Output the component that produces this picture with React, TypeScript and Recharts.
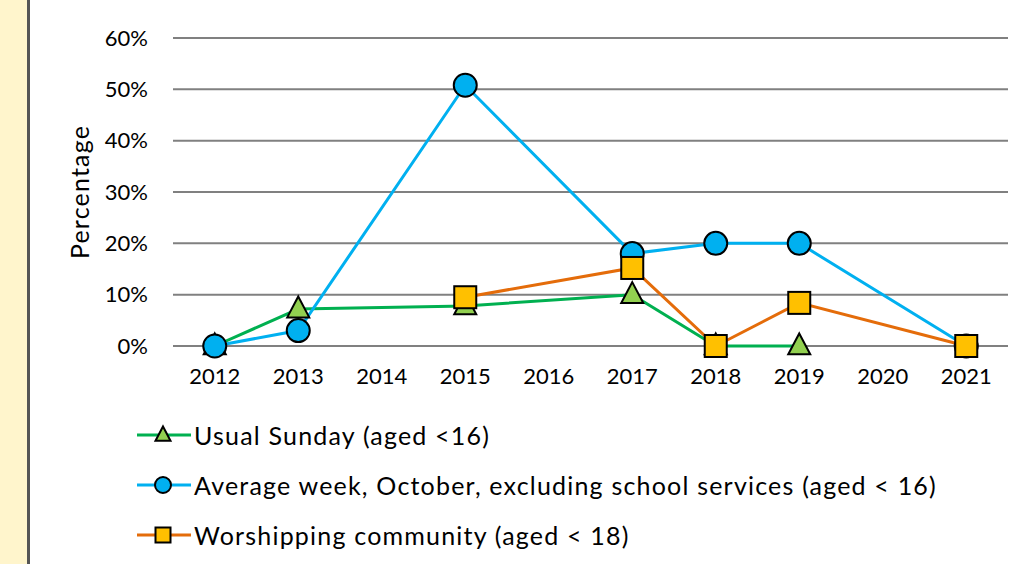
import { LineChart, Line, XAxis, YAxis, CartesianGrid } from 'recharts'

const years = [2012, 2013, 2014, 2015, 2016, 2017, 2018, 2019, 2020, 2021]
const usualSunday = [0, 7.2, null, 7.8, null, 10, 0, 0, null, null]
const averageWeek = [0, 3, null, 50.8, null, 18, 20, 20, null, 0]
const worshipping = [null, null, null, 9.5, null, 15.2, 0, 8.4, null, 0]
const yTicks = [0, 10, 20, 30, 40, 50, 60]

const SERIES = [
  { key: 'usual', name: 'Usual Sunday (aged <16)', line: '#00B050', fill: '#92D050', shape: 'triangle' },
  { key: 'average', name: 'Average week, October, excluding school services (aged < 16)', line: '#00B0F0', fill: '#00B0F0', shape: 'circle' },
  { key: 'worship', name: 'Worshipping community (aged < 18)', line: '#E46C0A', fill: '#FFC000', shape: 'square' },
]

const data = years.map((year, i) => ({
  year,
  usual: usualSunday[i],
  average: averageWeek[i],
  worship: worshipping[i],
}))

const FONT = 'Lato, "Open Sans", sans-serif'

function Marker({ shape, cx, cy, fill, size }: { shape: string; cx: number; cy: number; fill: string; size: number }) {
  if (shape === 'triangle') {
    const h = size * 0.95
    return (
      <polygon
        points={`${cx},${cy - h * 0.6} ${cx + size / 2},${cy + h * 0.4} ${cx - size / 2},${cy + h * 0.4}`}
        fill={fill}
        stroke="#000"
        strokeWidth={2}
        strokeLinejoin="miter"
      />
    )
  }
  if (shape === 'square') {
    return <rect x={cx - size / 2} y={cy - size / 2} width={size} height={size} fill={fill} stroke="#000" strokeWidth={2} />
  }
  return <circle cx={cx} cy={cy} r={size / 2} fill={fill} stroke="#000" strokeWidth={2} />
}

function makeDot(shape: string, fill: string) {
  return (props: any) => {
    const { cx, cy, value, index } = props
    if (value == null || cy == null || isNaN(cy)) return <g key={`e-${index}`} />
    return (
      <g key={`d-${index}`}>
        <Marker shape={shape} cx={cx} cy={cy} fill={fill} size={shape === 'circle' ? 23 : 22} />
      </g>
    )
  }
}

export default function App() {
  return (
    <div style={{ position: 'fixed', left: 0, top: 0, width: 1009, height: 564, background: '#fff', overflow: 'hidden', fontFamily: FONT }}>
      <div style={{ position: 'absolute', left: 0, top: 0, width: 27, height: 564, background: '#FFF5CC' }} />
      <div style={{ position: 'absolute', left: 27, top: 0, width: 3, height: 564, background: '#555' }} />

      <div style={{ position: 'absolute', left: 0, top: 0 }}>
        <LineChart width={1009} height={396} data={data} margin={{ top: 38, right: 1, left: 0, bottom: 0 }}>
          <CartesianGrid horizontal vertical={false} stroke="#808080" strokeWidth={2} />
          <XAxis
            dataKey="year"
            type="number"
            domain={[2011.5, 2021.5]}
            ticks={years}
            allowDataOverflow
            axisLine={false}
            tickLine={false}
            tickSize={0}
            tickMargin={22}
            height={50}
            tick={{ fill: '#000', fontSize: 22, fontFamily: FONT }}
          />
          <YAxis
            domain={[0, 60]}
            ticks={yTicks}
            width={173}
            axisLine={false}
            tickLine={false}
            tickSize={0}
            tickMargin={25}
            tickFormatter={(v) => `${v}%`}
            tick={{ fill: '#000', fontSize: 22, fontFamily: FONT }}
            label={{
              value: 'Percentage',
              angle: -90,
              position: 'insideLeft',
              offset: 80,
              style: { textAnchor: 'middle', fill: '#000', fontSize: 25, letterSpacing: 1.2, fontFamily: FONT },
            }}
          />
          {SERIES.map((s) => (
            <Line
              key={s.key}
              dataKey={s.key}
              name={s.name}
              type="linear"
              stroke={s.line}
              strokeWidth={3}
              connectNulls
              dot={makeDot(s.shape, s.fill)}
              activeDot={false}
              isAnimationActive={false}
            />
          ))}
        </LineChart>
      </div>

      {SERIES.map((s, i) => (
        <div key={s.key} style={{ position: 'absolute', left: 137, top: 435 + i * 50 - 20, height: 40, display: 'flex', alignItems: 'center' }}>
          <svg width={54} height={40} style={{ display: 'block' }}>
            <line x1={0} y1={20} x2={54} y2={20} stroke={s.line} strokeWidth={3} />
            <Marker shape={s.shape} cx={26} cy={20} fill={s.fill} size={s.shape === 'circle' ? 16 : 15} />
          </svg>
          <span style={{ marginLeft: 3, fontSize: 25, letterSpacing: 1.2, color: '#000', whiteSpace: 'nowrap' }}>{s.name}</span>
        </div>
      ))}
    </div>
  )
}
